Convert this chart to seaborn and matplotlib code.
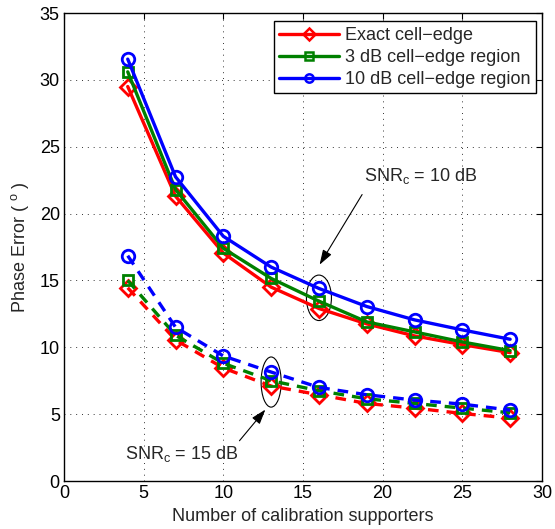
import matplotlib
matplotlib.use("Agg")
import matplotlib.pyplot as plt
from matplotlib.lines import Line2D
from matplotlib.patches import Ellipse
import seaborn as sns

# Number of calibration supporters
supporters = [4, 7, 10, 13, 16, 19, 22, 25, 28]

# Phase error (degrees) at SNR_c = 10 dB
exact_10 = [29.5, 21.3, 17.05, 14.5, 12.9, 11.75, 10.85, 10.2, 9.6]
db3_10 = [30.6, 21.8, 17.4, 15.15, 13.45, 11.9, 11.15, 10.4, 9.75]
db10_10 = [31.55, 22.75, 18.3, 16.0, 14.4, 13.05, 12.05, 11.3, 10.6]

# Phase error (degrees) at SNR_c = 15 dB
exact_15 = [14.45, 10.55, 8.45, 7.1, 6.45, 5.8, 5.45, 5.05, 4.7]
db3_15 = [15.0, 10.9, 8.8, 7.5, 6.75, 6.15, 5.8, 5.45, 5.1]
db10_15 = [16.85, 11.5, 9.35, 8.15, 7.0, 6.45, 6.05, 5.75, 5.3]

labels = ["Exact cell\u2212edge", "3 dB cell\u2212edge region", "10 dB cell\u2212edge region"]
colors = ["#ff0000", "#008000", "#0000ff"]
markers = ["D", "s", "o"]
msizes = [8, 7, 9]

x_ticks = [0, 5, 10, 15, 20, 25, 30]
y_ticks = [0, 5, 10, 15, 20, 25, 30, 35]

FS = 13

sns.set_style("white")
plt.rcParams["font.family"] = ["Liberation Sans", "DejaVu Sans"]
plt.rcParams["mathtext.fontset"] = "custom"
plt.rcParams["mathtext.rm"] = "Liberation Sans"
plt.rcParams["mathtext.it"] = "Liberation Sans"

fig = plt.figure(figsize=(5.55, 5.29), dpi=100)
ax = fig.add_axes([64 / 555, 1 - 481 / 529, 478 / 555, 468 / 529])

groups = [
    ([exact_10, db3_10, db10_10], "-"),
    ([exact_15, db3_15, db10_15], (0, (3.2, 2.4))),
]
for series, ls in groups:
    for vals, col, mk, ms in zip(series, colors, markers, msizes):
        sns.lineplot(
            x=supporters, y=vals, ax=ax, color=col, linestyle=ls,
            linewidth=2.4, marker=mk, markersize=ms,
            markerfacecolor="none", markeredgecolor=col, markeredgewidth=2.0,
            legend=False,
        )

ax.set_xlim(0, 30)
ax.set_ylim(0, 35)
ax.set_xticks(x_ticks)
ax.set_yticks(y_ticks)
ax.set_xticklabels([str(t) for t in x_ticks])
ax.set_yticklabels([str(t) for t in y_ticks])
ax.tick_params(direction="in", length=4, width=0.8, labelsize=FS,
               top=True, right=True, pad=3, colors="black")
ax.grid(True, linestyle=(0, (1, 5)), color="#333333", linewidth=0.7)
for sp in ax.spines.values():
    sp.set_visible(True)
    sp.set_color("black")
    sp.set_linewidth(1.0)

ax.set_xlabel("Number of calibration supporters", fontsize=FS, labelpad=4)
ax.set_ylabel(r"Phase Error ( $^{\mathrm{o}}$ )", fontsize=FS, labelpad=6)

# Legend entries for the three cell-edge definitions
handles = [
    Line2D([], [], color=c, linewidth=2.4, marker=m, markersize=6,
           markerfacecolor="none", markeredgecolor=c, markeredgewidth=1.8)
    for c, m in zip(colors, markers)
]
leg = ax.legend(handles, labels, loc="upper right", bbox_to_anchor=(0.987, 0.982),
                borderaxespad=0, fontsize=FS, handlelength=3.3, handletextpad=0.35,
                labelspacing=0.28, borderpad=0.3, fancybox=False, framealpha=1,
                edgecolor="black")
leg.get_frame().set_linewidth(1.0)

# SNR_c = 10 dB annotation
ax.add_patch(Ellipse((16.0, 13.7), 1.57, 3.4, fill=False, color="black", linewidth=0.8))
ax.annotate("", xy=(15.95, 16.0), xytext=(18.8, 21.6),
            arrowprops=dict(arrowstyle="-|>,head_length=0.9,head_width=0.3",
                            color="black", lw=0.8))
ax.text(18.8, 22.45, r"SNR$_{\mathrm{c}}$ = 10 dB", fontsize=FS, ha="left", va="baseline")

# SNR_c = 15 dB annotation
ax.add_patch(Ellipse((13.0, 7.4), 1.26, 3.75, fill=False, color="black", linewidth=0.8))
ax.annotate("", xy=(12.75, 5.5), xytext=(10.9, 2.85),
            arrowprops=dict(arrowstyle="-|>,head_length=0.9,head_width=0.3",
                            color="black", lw=0.8))
ax.text(3.8, 1.62, r"SNR$_{\mathrm{c}}$ = 15 dB", fontsize=FS, ha="left", va="baseline")

fig.savefig("out.png", dpi=100, facecolor="white")
